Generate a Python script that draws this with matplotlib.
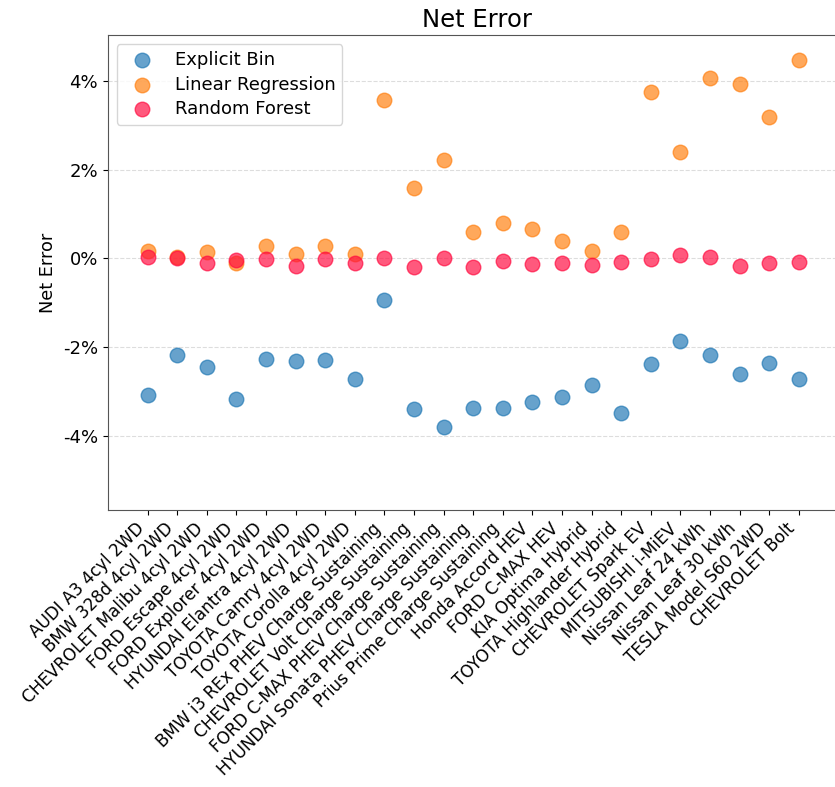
import matplotlib
matplotlib.use("Agg")
import matplotlib.pyplot as plt
from matplotlib.ticker import PercentFormatter

plt.rcParams["axes.unicode_minus"] = False

cars = ["AUDI A3 4cyl 2WD", "BMW 328d 4cyl 2WD", "CHEVROLET Malibu 4cyl 2WD",
        "FORD Escape 4cyl 2WD", "FORD Explorer 4cyl 2WD", "HYUNDAI Elantra 4cyl 2WD",
        "TOYOTA Camry 4cyl 2WD", "TOYOTA Corolla 4cyl 2WD",
        "BMW i3 REx PHEV Charge Sustaining", "CHEVROLET Volt Charge Sustaining",
        "FORD C-MAX PHEV Charge Sustaining", "HYUNDAI Sonata PHEV Charge Sustaining",
        "Prius Prime Charge Sustaining", "Honda Accord HEV", "FORD C-MAX HEV",
        "KIA Optima Hybrid", "TOYOTA Highlander Hybrid", "CHEVROLET Spark EV",
        "MITSUBISHI i-MiEV", "Nissan Leaf 24 kWh", "Nissan Leaf 30 kWh",
        "TESLA Model S60 2WD", "CHEVROLET Bolt"]

# net error, in percent
explicit_bin = [-3.08, -2.17, -2.44, -3.16, -2.27, -2.32, -2.29, -2.72, -0.93, -3.40,
                -3.80, -3.36, -3.36, -3.23, -3.13, -2.86, -3.48, -2.39, -1.87, -2.17,
                -2.61, -2.36, -2.72]
linear_reg = [0.16, 0.03, 0.14, -0.10, 0.28, 0.11, 0.28, 0.09, 3.58, 1.58,
              2.22, 0.59, 0.79, 0.67, 0.40, 0.17, 0.59, 3.75, 2.39, 4.08,
              3.93, 3.18, 4.47]
random_forest = [0.03, 0.00, -0.10, -0.03, -0.02, -0.17, -0.02, -0.10, 0.02, -0.20,
                 0.02, -0.20, -0.05, -0.12, -0.10, -0.14, -0.07, -0.02, 0.07, 0.03,
                 -0.17, -0.10, -0.07]

fig = plt.figure(figsize=(8.35, 7.87), dpi=100)
# right edge sits just past the figure, like the cropped reference
ax = fig.add_axes([0.129, 0.352, 0.885, 0.6036])

x = list(range(len(cars)))
ax.scatter(x, explicit_bin, s=110, c="#1f77b4", alpha=0.68, label="Explicit Bin", zorder=3)
ax.scatter(x, linear_reg, s=110, c="#ff7f0e", alpha=0.68, label="Linear Regression", zorder=3)
ax.scatter(x, random_forest, s=110, c="#ff0a3f", alpha=0.68, label="Random Forest", zorder=3)

ax.set_xlim(-1.35, 23.62)
ax.set_ylim(-5.67, 5.04)
ax.set_xticks(x)
ax.set_xticklabels(cars, rotation=45, ha="right", fontsize=12.1)
ax.set_yticks([-4, -2, 0, 2, 4])
ax.yaxis.set_major_formatter(PercentFormatter(100, decimals=0))
ax.tick_params(axis="y", labelsize=13)
ax.grid(axis="y", ls="--", color="#dddddd", lw=0.8, zorder=0)
for sp in ax.spines.values():
    sp.set_color("#555555")

ax.set_title("Net Error", fontsize=17.5)
ax.set_ylabel("Net Error", fontsize=12.8)
ax.legend(loc="upper left", fontsize=13, labelspacing=0.35)

fig.savefig("out.png", dpi=100)
